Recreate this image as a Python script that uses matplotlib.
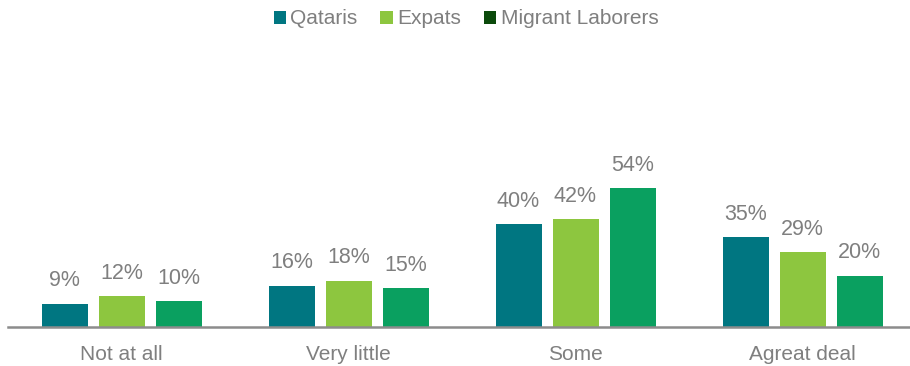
import matplotlib
matplotlib.use("Agg")
import matplotlib.pyplot as plt
from matplotlib.patches import Patch
import numpy as np

categories = ["Not at all", "Very little", "Some", "Agreat deal"]
series_names = ["Qataris", "Expats", "Migrant Laborers"]
qataris = [9, 16, 40, 35]
expats = [12, 18, 42, 29]
migrants = [10, 15, 54, 20]

bar_colors = ["#007681", "#8dc63f", "#0aa060"]
legend_colors = ["#007681", "#8dc63f", "#0b4a0b"]
gray = "#7f7f7f"

plt.rcParams['font.family'] = ['Liberation Sans', 'DejaVu Sans']

W, H = 910, 366
fig = plt.figure(figsize=(W / 100, H / 100), dpi=100)
left_px, right_px, base_px, top_px = 8, 916, 327, 60
ax = fig.add_axes([left_px / W, 1 - base_px / H, (right_px - left_px) / W, (base_px - top_px) / H])

px_per_unit = 2.57
ymax = (base_px - top_px) / px_per_unit
x = np.arange(len(categories))
group_px = (right_px - left_px) / len(categories)
step = 57 / group_px
width = 46 / group_px

for i, (vals, c) in enumerate(zip([qataris, expats, migrants], bar_colors)):
    pos = x + (i - 1) * step
    ax.bar(pos, vals, width=width, color=c, zorder=2)
    for p, v in zip(pos, vals):
        ax.annotate(f"{v}%", (p, v), xytext=(0, 9), textcoords="offset points",
                    ha="center", va="bottom", fontsize=15.5, color=gray)

ax.set_xlim(-0.5, len(categories) - 0.5)
ax.set_ylim(0, ymax)
ax.set_xticks(x)
ax.set_xticklabels(categories, fontsize=15, color=gray)
ax.tick_params(axis="x", length=0, pad=13)
ax.set_yticks([])
for s in ["top", "right", "left"]:
    ax.spines[s].set_visible(False)
ax.spines["bottom"].set_color("#8c8c8c")
ax.spines["bottom"].set_linewidth(1.8)
ax.set_facecolor("none")

handles = [Patch(facecolor=c, edgecolor="none") for c in legend_colors]
leg = fig.legend(handles, series_names, loc="center", bbox_to_anchor=(466 / W, 1 - 19 / H),
                 ncol=3, frameon=False, fontsize=15, handlelength=0.6, handleheight=0.6,
                 handletextpad=0.2, columnspacing=1.1, labelcolor=gray)

fig.savefig("out.png", dpi=100)
